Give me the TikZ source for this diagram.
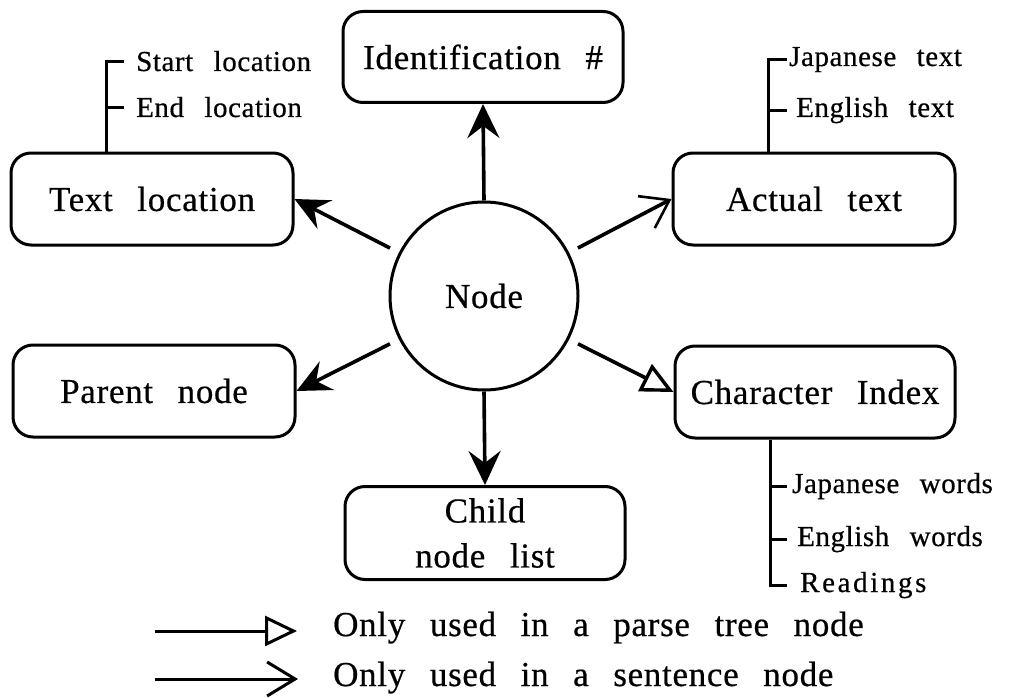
\documentclass[tikz,border=0pt]{standalone}
\usepackage{fontspec}
\setmainfont{Liberation Serif}[LetterSpace=2, WordSpace=2.6, FakeBold=0.5]
\usetikzlibrary{arrows.meta}

\newcommand\bigtext{\fontsize{35}{45}\selectfont}
\newcommand\smalltext{\fontsize{29}{35}\selectfont}

\begin{document}
\begin{tikzpicture}[x=1pt, y=-1pt,
  box/.style={draw, line width=3pt, rounded corners=20pt, minimum width=282pt,
    minimum height=92pt, inner sep=0pt, font=\bigtext},
  hub/.style={draw, circle, line width=3pt, minimum size=188pt, inner sep=0pt, font=\bigtext},
  link/.style={line width=3.6pt},
  solidtip/.style={-{Stealth[length=34pt, width=32pt, inset=12pt]}},
  barbtip/.style={-{Straight Barb[length=26pt, width=36pt, line width=2.6pt]}},
  opentip/.style={-{Triangle[open, length=32pt, width=30pt, line width=3.4pt, fill=white]}},
  bracket/.style={line width=3pt},
  sublabel/.style={anchor=base west, inner sep=0pt, font=\smalltext},
  legendline/.style={line width=3pt},
  legendtext/.style={anchor=base west, inner sep=0pt, font=\bigtext},
]
\useasboundingbox (0,0) rectangle (1019,698);

% central record and its fields
\node[hub] (node) at (484,296) {Node};
\node[box, minimum width=280pt, minimum height=91pt] (ident) at (483,57) {Identification \#};
\node[box] (textloc) at (152,199) {Text location};
\node[box] (actual) at (814,199) {Actual text};
\node[box] (parent) at (154,391) {Parent node};
\node[box, minimum width=280pt] (charidx) at (815,392) {Character Index};
\node[box, minimum width=280pt, minimum height=93pt, align=center] (child) at (485,533) {Child\\node list};

% links from the node to its fields
\draw[link, solidtip] (node.north) -- (ident.south);
\draw[link, solidtip] (node.south) -- (child.north);
\draw[link, solidtip, shorten <=10pt] (node.153) -- (textloc.east);
\draw[link, solidtip, shorten <=10pt] (node.207) -- (parent.east);
\draw[link, barbtip, shorten <=10pt] (node.27) -- (actual.west);
\draw[link, opentip, shorten <=10pt] (node.-27) -- (charidx.west);

% sub-fields of the text location
\coordinate (tlx) at (106,0);
\node[sublabel] (startloc) at (136,71) {Start location};
\node[sublabel] (endloc) at (136,117) {End location};
\draw[bracket, shorten >=12pt] (textloc.north -| tlx) |- (startloc.west);
\draw[bracket, shorten >=12pt] (tlx |- endloc.west) -- (endloc.west);

% sub-fields of the actual text
\coordinate (atx) at (768,0);
\node[sublabel] (jtext) at (789,66) {Japanese text};
\node[sublabel] (etext) at (796,117) {English text};
\draw[bracket, shorten >=2pt] (actual.north -| atx) |- (jtext.west);
\draw[bracket, shorten >=9pt] (atx |- etext.west) -- (etext.west);

% sub-fields of the character index
\coordinate (cix) at (770,0);
\node[sublabel] (jwords) at (792,493) {Japanese words};
\node[sublabel] (ewords) at (797,546) {English words};
\node[sublabel] (readings) at (800,592) {\addfontfeatures{LetterSpace=9}Readings};
\draw[bracket, shorten >=13pt] (charidx.south -| cix) |- (readings.west);
\draw[bracket, shorten >=5pt] (cix |- jwords.west) -- (jwords.west);
\draw[bracket, shorten >=10pt] (cix |- ewords.west) -- (ewords.west);

% legend
\coordinate (lg1a) at (155,631);
\coordinate (lg1b) at (297,631);
\coordinate (lg2a) at (155,679);
\coordinate (lg2b) at (298,679);
\draw[legendline, -{Triangle[open, length=32pt, width=30pt, line width=3pt, fill=white]}] (lg1a) -- (lg1b);
\draw[legendline, -{Straight Barb[length=28pt, width=34pt, line width=3pt]}] (lg2a) -- (lg2b);
\node[legendtext] (lgtext1) at (333,636) {Only used in a parse tree node};
\node[legendtext] (lgtext2) at (333,686) {Only used in a sentence node};
\end{tikzpicture}
\end{document}
